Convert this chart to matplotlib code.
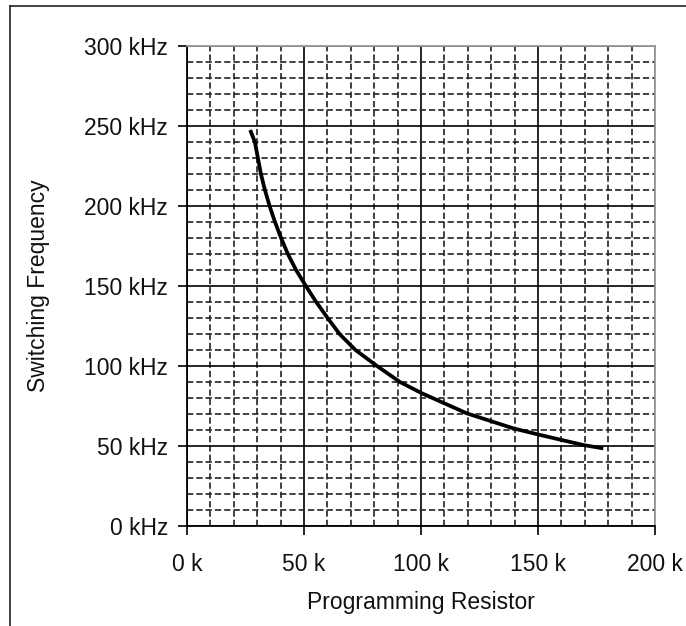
import matplotlib
matplotlib.use("Agg")
import matplotlib.pyplot as plt
from matplotlib.lines import Line2D
from matplotlib.ticker import MultipleLocator, FuncFormatter

plt.rcParams['font.family'] = ['Liberation Sans', 'DejaVu Sans']
plt.rcParams['lines.scale_dashes'] = False

# data (resistor in k-ohm, frequency in kHz)
resistor_k = [27, 29, 30.3, 31.6, 33.3, 35.3, 37.6, 40.2, 43.1, 46.6, 50.8, 55.2,
              60.1, 65.2, 72, 81.2, 91, 100.3, 119.6, 139.5, 150.9, 169.4, 177.9]
freq_khz = [247.5, 240, 230, 220, 210, 200, 190, 180, 170, 160, 150, 140,
            130, 120, 110, 100, 90, 83, 70.4, 61, 56.9, 50.6, 48.5]
x_ticks = [0, 50, 100, 150, 200]
y_ticks = [0, 50, 100, 150, 200, 250, 300]

W, H = 686, 626
fig = plt.figure(figsize=(W / 100, H / 100), dpi=100)
ax = fig.add_axes([187 / W, 1 - 526 / H, (655 - 187) / W, (526 - 46) / H])

ax.set_xlim(0, 200)
ax.set_ylim(0, 300)
ax.set_xticks(x_ticks)
ax.set_yticks(y_ticks)
ax.xaxis.set_minor_locator(MultipleLocator(10))
ax.yaxis.set_minor_locator(MultipleLocator(10))
ax.xaxis.set_major_formatter(FuncFormatter(lambda v, p: f"{v:.0f} k"))
ax.yaxis.set_major_formatter(FuncFormatter(lambda v, p: f"{v:.0f} kHz"))

ax.grid(which='major', color='black', linewidth=1.2, linestyle='-')
ax.grid(which='minor', color='#2a2a2a', linewidth=1.25, linestyle=(0, (4.5, 2.2)))
ax.set_axisbelow(True)

ax.tick_params(which='major', direction='out', length=6.5, width=1.2, color='black',
               labelsize=16.5, labelcolor='#111111')
ax.tick_params(axis='y', which='major', pad=7)
ax.tick_params(axis='x', which='major', pad=13)
ax.tick_params(which='minor', length=0)

for s in ['left', 'bottom']:
    ax.spines[s].set_color('black')
    ax.spines[s].set_linewidth(1.3)
for s in ['top', 'right']:
    ax.spines[s].set_color('#999999')
    ax.spines[s].set_linewidth(1.3)

ax.plot(resistor_k, freq_khz, color='black', linewidth=2.7,
        solid_capstyle='butt', solid_joinstyle='round')

ax.set_xlabel("Programming Resistor", fontsize=16.5, color='#111111', labelpad=11)
ax.set_ylabel("Switching Frequency", fontsize=16.5, color='#111111', labelpad=25)

# outer frame (cropped at right and bottom)
fig.add_artist(Line2D([10 / W, 10 / W], [0, 1 - 6 / H], transform=fig.transFigure,
                      color='#222222', linewidth=1.2))
fig.add_artist(Line2D([10 / W, 1], [1 - 6 / H, 1 - 6 / H], transform=fig.transFigure,
                      color='#222222', linewidth=1.2))

fig.savefig("out.png", dpi=100)
